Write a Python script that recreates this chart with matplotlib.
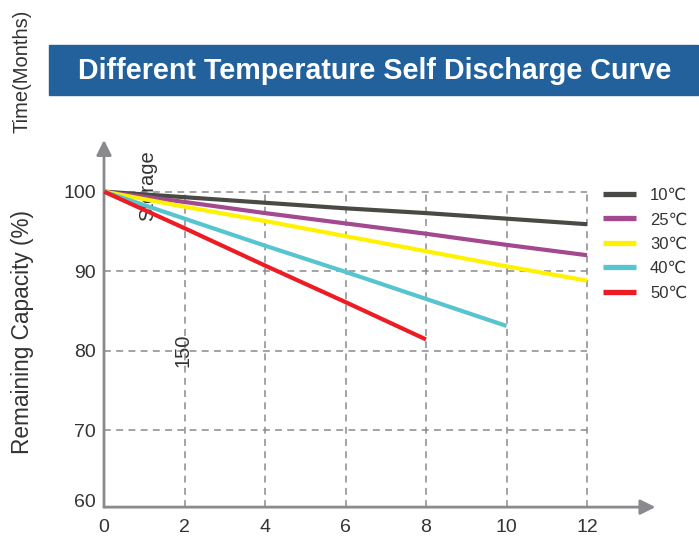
import matplotlib
matplotlib.use('Agg')
import matplotlib.pyplot as plt
import matplotlib.transforms as mtransforms
from matplotlib.patches import Rectangle

plt.rcParams['font.family'] = ['Liberation Sans', 'DejaVu Sans']

# data
months = [0, 2, 4, 6, 8, 10, 12]
cap_10 = [100, 99.3, 98.6, 97.9, 97.3, 96.6, 95.9]
cap_25 = [100, 98.7, 97.3, 96.0, 94.7, 93.3, 92.0]
cap_30 = [100, 98.1, 96.3, 94.4, 92.5, 90.6, 88.8]
cap_40 = [100, 96.6, 93.2, 89.9, 86.5, 83.1]
cap_50 = [100, 95.4, 90.7, 86.1, 81.4]

labels = ['10℃', '25℃', '30℃', '40℃', '50℃']
colors = ['#4a4a45', '#a2498f', '#fff200', '#56c5cf', '#ed1c24']
series = [cap_10, cap_25, cap_30, cap_40, cap_50]

xticks = [0, 2, 4, 6, 8, 10, 12]
yticks = [60, 70, 80, 90, 100]
grid_x = [2, 4, 6, 8, 10, 12]
grid_y = [70, 80, 90, 100]

W, H = 699, 540
fig = plt.figure(figsize=(W / 100, H / 100), dpi=100)

# title banner
fig.patches.append(Rectangle((49 / W, 1 - 95 / H), 649 / W, 50 / H,
                             transform=fig.transFigure, color='#22619b', zorder=0))
fig.text(374.5 / W, 1 - 71 / H, 'Different Temperature Self Discharge Curve',
         color='white', fontsize=20.6, fontweight='bold', ha='center', va='center')

fig.text(22.5 / W, 1 - 71 / H, 'Time(Months)', rotation=90, fontsize=14.5,
         color='#333333', ha='center', va='center')
fig.text(22.5 / W, 1 - 332 / H, 'Remaining Capacity (%)', rotation=90, fontsize=16.3,
         color='#333333', ha='center', va='center')

ax = fig.add_axes([104 / W, (H - 509.5) / H, 563.5 / W, 373.5 / H])
ax.set_xlim(0, 14)
ax.set_ylim(60.3, 107)
for s in ax.spines.values():
    s.set_visible(False)
ax.patch.set_alpha(0)

# dashed grid box
ax.hlines(grid_y, 0, 12, colors='#8a8a8a', linestyles=(0, (4.5, 3.5)), lw=1.1, zorder=1)
ax.vlines(grid_x, 60.3, 100, colors='#8a8a8a', linestyles=(0, (4.5, 3.5)), lw=1.1, zorder=1)

# arrowed axes
arrow = dict(arrowstyle='-|>,head_length=0.9,head_width=0.45', color='#8a8a8e',
             lw=2, shrinkA=0, shrinkB=0)
ax.annotate('', xy=(0, 106.5), xytext=(0, 60.3), arrowprops=arrow, annotation_clip=False)
ax.annotate('', xy=(13.7, 60.3), xytext=(0, 60.3), arrowprops=arrow, annotation_clip=False)

# stray labels
ax.text(1.09, 100.75, 'Storage', rotation=90, fontsize=14.5, color='#333333',
        ha='center', va='center', zorder=2)
ax.text(1.96, 80, '150', rotation=90, fontsize=14.5, color='#333333',
        ha='center', va='center', zorder=2)

for vals, lab, col in zip(series, labels, colors):
    ax.plot(months[:len(vals)], vals, color=col, lw=3, label=lab,
            solid_capstyle='butt', zorder=3, clip_on=False)

ax.set_xticks(xticks)
ax.set_yticks(yticks)
ax.tick_params(length=0, labelsize=14, labelcolor='#333333')
ax.tick_params(axis='x', pad=6.5)
ax.tick_params(axis='y', pad=5.8)
lab60 = ax.get_yticklabels()[0]
lab60.set_transform(lab60.get_transform() +
                    mtransforms.ScaledTranslation(0, 9 / 100, fig.dpi_scale_trans))

leg = ax.legend(loc='upper left', bbox_to_anchor=(588 / W, 1 - 173 / H),
                bbox_transform=fig.transFigure, frameon=False, fontsize=12,
                handlelength=2.0, handletextpad=0.82, labelspacing=0.56)
for t in leg.get_texts():
    t.set_color('#333333')
for h in leg.get_lines():
    h.set_linewidth(3.8)

fig.savefig('out.png', dpi=100)
